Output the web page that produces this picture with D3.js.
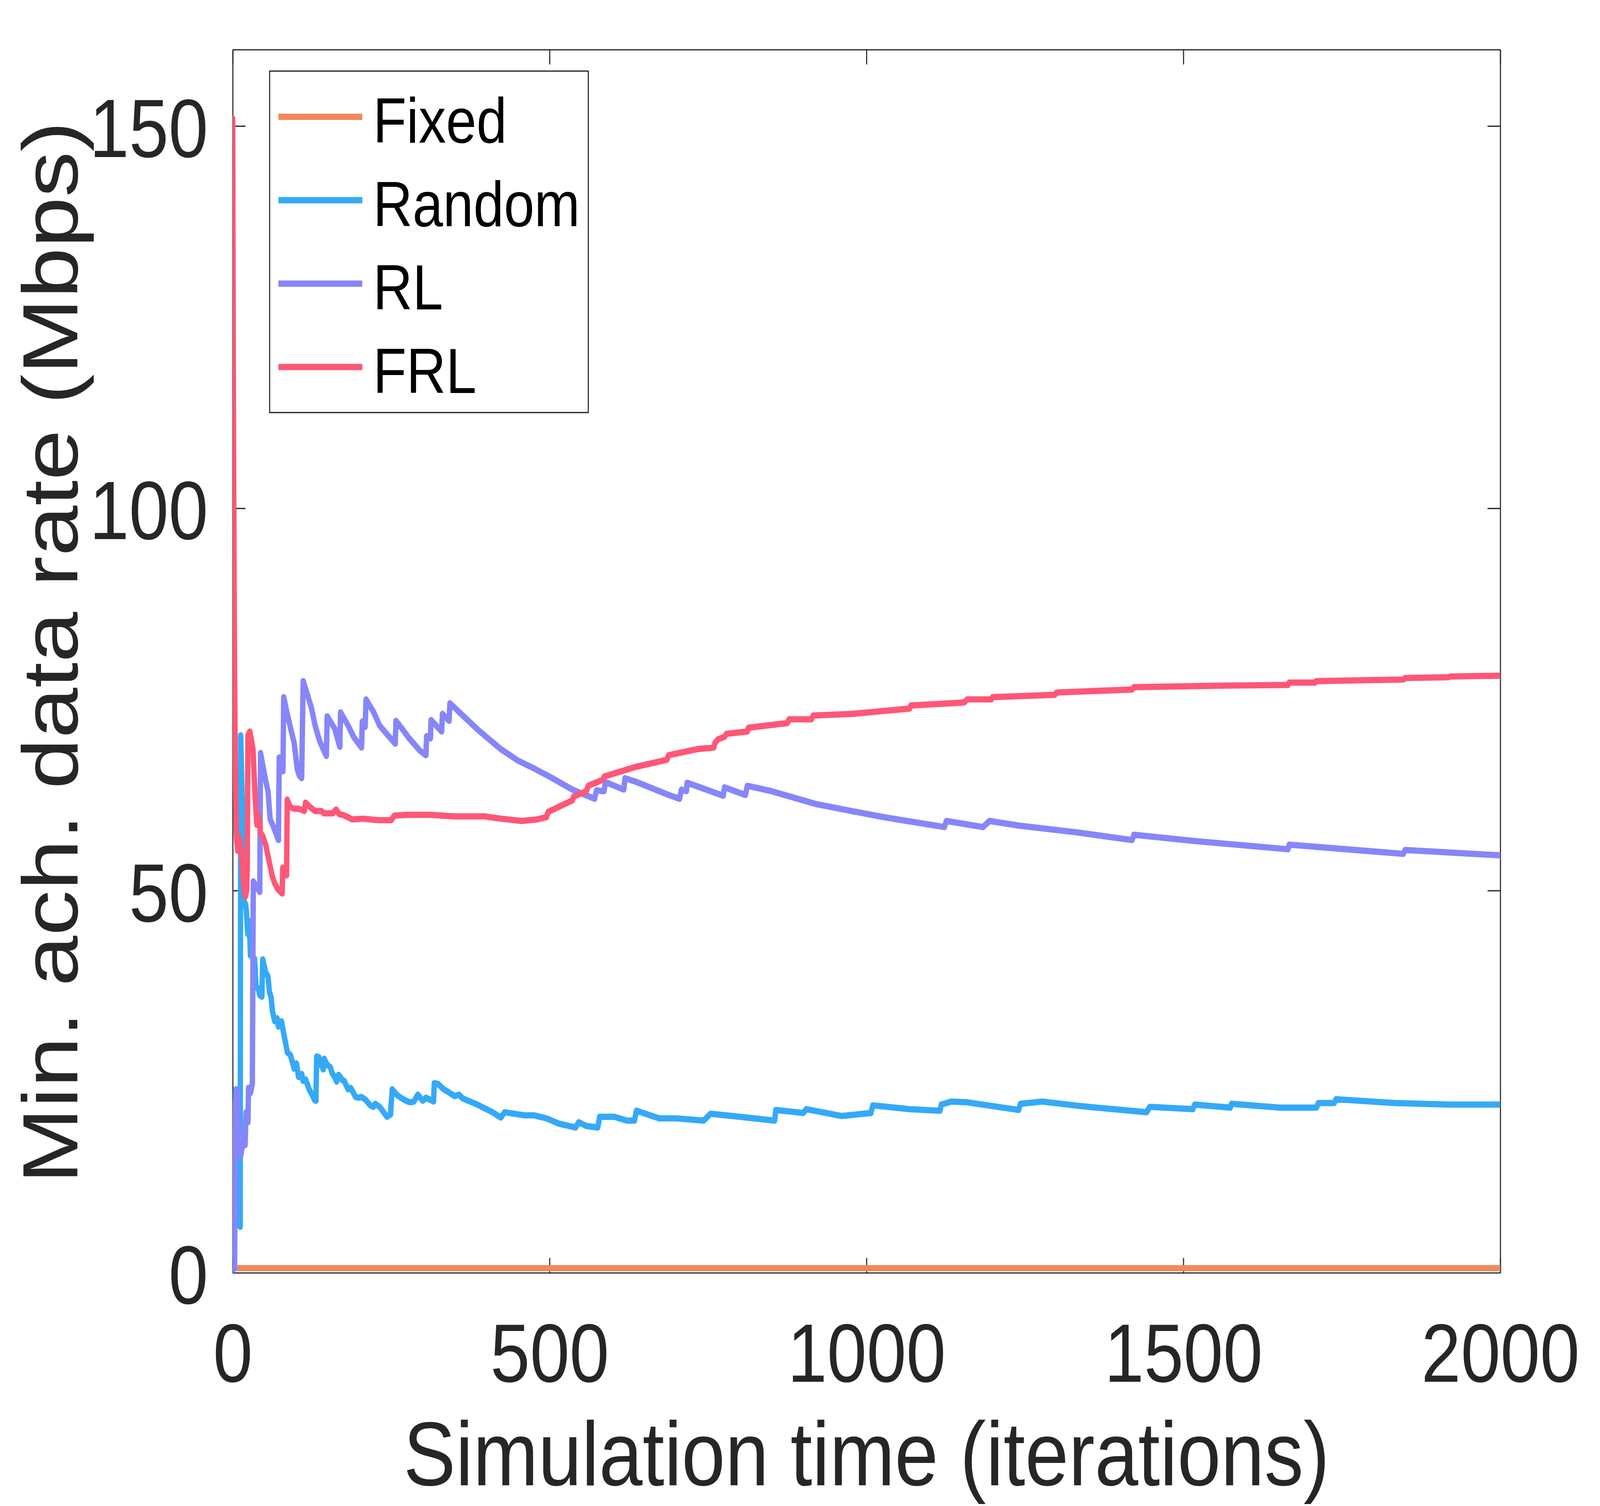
<!DOCTYPE html>
<html>
<head>
<meta charset="utf-8">
<script src="https://cdn.jsdelivr.net/npm/d3@7"></script>
<style>
  html,body{margin:0;padding:0;background:#fff;overflow:hidden;width:100%;height:100%;}
  svg{display:block;font-family:"Liberation Sans",Arial,Helvetica,sans-serif;}
</style>
</head>
<body>
<svg id="chart"></svg>
<script>
// ---- data ----
const iterTicks = [0, 500, 1000, 1500, 2000];
const rateTicks = [0, 50, 100, 150];
const seriesNames = ["Fixed", "Random", "RL", "FRL"];

const fixedData = [[0, 0.6], [2000, 0.6]];

const randomData = [[0,0],[2,5],[3,18],[5,24],[8,20],[10,6.3],[11.8,6],[12.6,70.3],[15,62],[16.7,56.8],[18,48.6],
  [20,48.3],[21.4,47.5],[23.8,44.3],[26,46],[28,41.5],[34.4,41.1],[35.6,39.5],[36.8,37.4],[40.3,37.2],[42.7,36.3],
  [46,36.1],[47.4,41],[52,39.3],[55.7,38.8],[58,36.7],[60.4,36.1],[62.8,34.2],[66.3,32.9],[69.9,33.3],[72.2,32.2],
  [77,32.9],[80.5,31.3],[86.4,28.8],[91,28.5],[97,26.7],[100.6,27.4],[104,25.6],[109,26],[111,25.1],[115,25.3],
  [120.6,24],[125.4,23.3],[129,22.6],[131.3,22.5],[132.5,28.3],[136,28.2],[139.5,27.2],[143,26.6],[144.3,28],
  [149,27.2],[154,26.9],[157,26.1],[161,25.6],[164,25],[167,25.9],[173,25.2],[176,25.1],[182,24],[186,24.2],
  [194,23],[199,22.9],[203,23],[210,22.6],[217,21.9],[222,21.7],[225,22.1],[232,21.7],[243.5,20.4],[249,20.7],
  [251.7,24],[260,23.2],[267,22.8],[276,22.4],[281,22.3],[286,22.4],[292,23.3],[300,22.5],[305,22.9],[317,22.4],
  [318,24.8],[324,24.7],[333,24],[343,23.5],[350,23.1],[357,23.3],[363,22.8],[386,22],[410,21],[423,20.3],
  [429,21],[460,20.6],[475,20.6],[495,20.2],[515,19.5],[541,19],[546,19.7],[558,19.2],[576,19],[579,20.4],
  [602,20.4],[622,19.9],[634,19.9],[637,21.2],[673,20.2],[700,20.2],[743,19.9],[754,20.8],[789,20.5],[855,19.9],
  [857,21.3],[900,20.9],[905,21.4],[961,20.5],[1007,20.9],[1010,21.9],[1068,21.4],[1116,21.2],[1118,22],
  [1134,22.4],[1159,22.3],[1199,21.8],[1240,21.3],[1243,22.1],[1277,22.4],[1338,21.8],[1442,21],[1447,21.7],
  [1515,21.4],[1518,22],[1574,21.6],[1576,22.1],[1652,21.6],[1710,21.6],[1713,22.2],[1738,22.2],[1741,22.7],
  [1834,22.2],[1921,22],[2000,22]];

const rlData = [[0,0.6],[3,0.6],[4,18],[5,23],[7,24],[9,20],[12.5,15.2],[16,17],[19.6,16.7],[21,21],[24,19.7],
  [25,24.2],[28,23.5],[31,24.7],[32.5,51.2],[37,50.6],[42.7,49.8],[43.9,68],[51,64.8],[55.7,63],[59.2,59.3],
  [64,58.4],[72.2,56.6],[73.4,67.4],[79.3,65.6],[80.5,75.3],[85.2,73.4],[92.3,70.9],[97,69.3],[101.8,65.9],
  [105.3,65],[108.8,64.7],[111.2,77.4],[118.3,75.5],[124.2,73.9],[130,71.6],[137,69.6],[144.3,68.2],[147.8,67.6],
  [149,72.8],[160.8,71.2],[169,68.8],[170.2,73.3],[182,71.6],[191.5,70],[203.3,68.7],[204.5,72.1],[209,71.4],
  [210.4,75],[222,73.4],[231.7,71.6],[246,70.2],[256.5,69.2],[257.6,72.2],[267,71.2],[276.5,70.1],[295.4,68.3],
  [304.9,67.7],[306,70.2],[312,69.9],[313,72.3],[329.7,70.8],[330.9,73.1],[341.5,72.2],[342.7,74.5],[363,72.9],
  [386,71.1],[423,68.5],[450,67],[470,66.2],[500,64.9],[536,63.2],[571,62],[574,63.1],[586,63],[588,64.2],
  [617,63.2],[619,64.7],[637,64.2],[688,62.5],[705,62],[708,63.2],[716,63],[717,64.1],[774,62.4],[776,63.5],
  [809,62.5],[812,63.7],[850,63],[921,61.3],[977,60.4],[1027,59.6],[1123,58.3],[1126,59.1],[1184,58.3],
  [1194,59.1],[1240,58.5],[1333,57.6],[1419,56.6],[1422,57.3],[1515,56.5],[1665,55.4],[1667,56],[1847,54.8],
  [1850,55.3],[2000,54.6]];

const frlData = [[0,151],[1,118],[2,95],[3,78],[4,68],[5,61],[6,57],[8,55.2],[10,57],[12,56],[14,55],[16,52],
  [18,50],[20,49.2],[22,50],[23,53],[24,70.3],[27,70.8],[30,69.5],[32,68.5],[35,63],[38,58.6],[41,59.8],[44,57.5],
  [47,57.2],[52,56],[57,54],[62,52],[66,51],[71,50.2],[78,49.6],[79,53],[85,52],[86,61.9],[91,60.9],[97,60.7],
  [104,60.7],[113,60.4],[115,61.5],[121,61],[130,60.4],[140,60.4],[144,60.1],[158,60.1],[163,60.6],[168,60],
  [177,59.8],[189,59.3],[206,59.4],[229,59.2],[250,59.2],[255,59.8],[276,59.9],[312,59.9],[349,59.7],[397,59.7],
  [423,59.4],[456,59.1],[480,59.3],[495,59.6],[498,60.3],[536,61.8],[538,62.3],[558,63],[561,63.7],[584,64.5],
  [586,64.9],[609,65.5],[637,66.2],[685,67.1],[688,67.7],[733,68.5],[759,68.7],[761,69.3],[766,69.8],[776,70.1],
  [779,70.5],[812,70.8],[814,71.3],[875,71.9],[878,72.4],[913,72.4],[916,72.9],[977,73.1],[1068,73.8],[1070,74.2],
  [1154,74.6],[1159,75],[1197,75],[1199,75.3],[1297,75.6],[1300,75.9],[1419,76.3],[1422,76.6],[1566,76.8],
  [1665,76.9],[1667,77.2],[1708,77.2],[1710,77.4],[1847,77.6],[1850,77.8],[1918,77.9],[1921,78.0],[2000,78.1]];

const seriesData = [fixedData, randomData, rlData, frlData];
const seriesColors = ["#f4885a", "#35a9f7", "#8686fa", "#ff5777"];

// ---- layout (in reference pixels; viewBox stretches it onto the real viewport) ----
const W = 4765, H = 3855;
const m = {left:693, right:4468, top:127, bottom:3258};
const ink = "#262626", fontStack = '"Liberation Sans",Arial,Helvetica,sans-serif';
const tickLen = 38, lineW = 16;

// the browser caps the viewport width, so fill it exactly with the reference frame
const svg = d3.select("#chart")
  .attr("viewBox", `0 0 ${W} ${H}`)
  .attr("preserveAspectRatio", "none")
  .style("width", "100vw").style("height", "100vh");
svg.append("rect").attr("width", W).attr("height", H).attr("fill", "#fff");

const x = d3.scaleLinear().domain([0, 2000]).range([m.left, m.right]);
const y = d3.scaleLinear().domain([0, 160]).range([m.bottom, m.top]);
const fmt = d3.format("d");

svg.append("defs").append("clipPath").attr("id", "plotClip")
  .append("rect").attr("x", m.left).attr("y", m.top)
  .attr("width", m.right - m.left).attr("height", m.bottom - m.top);

// axes: closed box, ticks pointing inward
function styleAxis(g){
  g.selectAll("path.domain").attr("stroke", ink).attr("stroke-width", 3.2);
  g.selectAll(".tick line").attr("stroke", ink).attr("stroke-width", 3.2);
  g.selectAll(".tick text").attr("fill", ink).attr("font-size", 212).attr("font-family", fontStack);
}
const gx = svg.append("g").attr("transform", `translate(0,${m.bottom})`)
  .call(d3.axisBottom(x).tickValues(iterTicks).tickFormat(fmt).tickSizeInner(-tickLen).tickSizeOuter(0).tickPadding(128));
styleAxis(gx);
const gxTop = svg.append("g").attr("transform", `translate(0,${m.top})`)
  .call(d3.axisTop(x).tickValues(iterTicks).tickSizeInner(-tickLen).tickSizeOuter(0).tickFormat(""));
styleAxis(gxTop);
const gy = svg.append("g").attr("transform", `translate(${m.left},0)`)
  .call(d3.axisLeft(y).tickValues(rateTicks).tickFormat(fmt).tickSizeInner(-tickLen).tickSizeOuter(0).tickPadding(73));
styleAxis(gy);
gy.selectAll(".tick text").attr("dy", "0.37em");
const gyRight = svg.append("g").attr("transform", `translate(${m.right},0)`)
  .call(d3.axisRight(y).tickValues(rateTicks).tickSizeInner(-tickLen).tickSizeOuter(0).tickFormat(""));
styleAxis(gyRight);

// data lines, drawn in legend order (FRL on top)
const line = d3.line().x(d => x(d[0])).y(d => y(d[1]));
const lineG = svg.append("g").attr("clip-path", "url(#plotClip)");
lineG.selectAll("path").data(seriesData).join("path")
  .attr("d", line)
  .attr("fill", "none")
  .attr("stroke", (d, i) => seriesColors[i])
  .attr("stroke-width", lineW)
  .attr("stroke-linejoin", "round")
  .attr("stroke-linecap", "round");

// axis labels
svg.append("text")
  .attr("x", (m.left + m.right) / 2).attr("y", 3802)
  .attr("text-anchor", "middle").attr("fill", ink)
  .attr("font-size", 233).attr("font-family", fontStack)
  .text("Simulation time (iterations)");
svg.append("text")
  .attr("transform", `translate(230,1670) rotate(-90)`)
  .attr("text-anchor", "middle").attr("fill", ink)
  .attr("font-size", 233).attr("font-family", fontStack)
  .text("Min. ach. data rate (Mbps)");

// legend
const leg = {x0:803, y0:182, x1:1752, y1:1056, first:299, step:213.5, lx0:829, lx1:1079, tx:1111};
const lg = svg.append("g");
lg.append("rect").attr("x", leg.x0).attr("y", leg.y0)
  .attr("width", leg.x1 - leg.x0).attr("height", leg.y1 - leg.y0)
  .attr("fill", "#fff").attr("stroke", ink).attr("stroke-width", 3.2);
const items = lg.selectAll("g.item").data(seriesNames).join("g").attr("class", "item")
  .attr("transform", (d, i) => `translate(0,${leg.first + i * leg.step})`);
items.append("line").attr("x1", leg.lx0).attr("x2", leg.lx1)
  .attr("stroke", (d, i) => seriesColors[i]).attr("stroke-width", lineW);
items.append("text").attr("x", leg.tx).attr("y", 66)
  .attr("font-size", 163).attr("font-family", fontStack).attr("fill", "#000")
  .text(d => d);
</script>
</body>
</html>
